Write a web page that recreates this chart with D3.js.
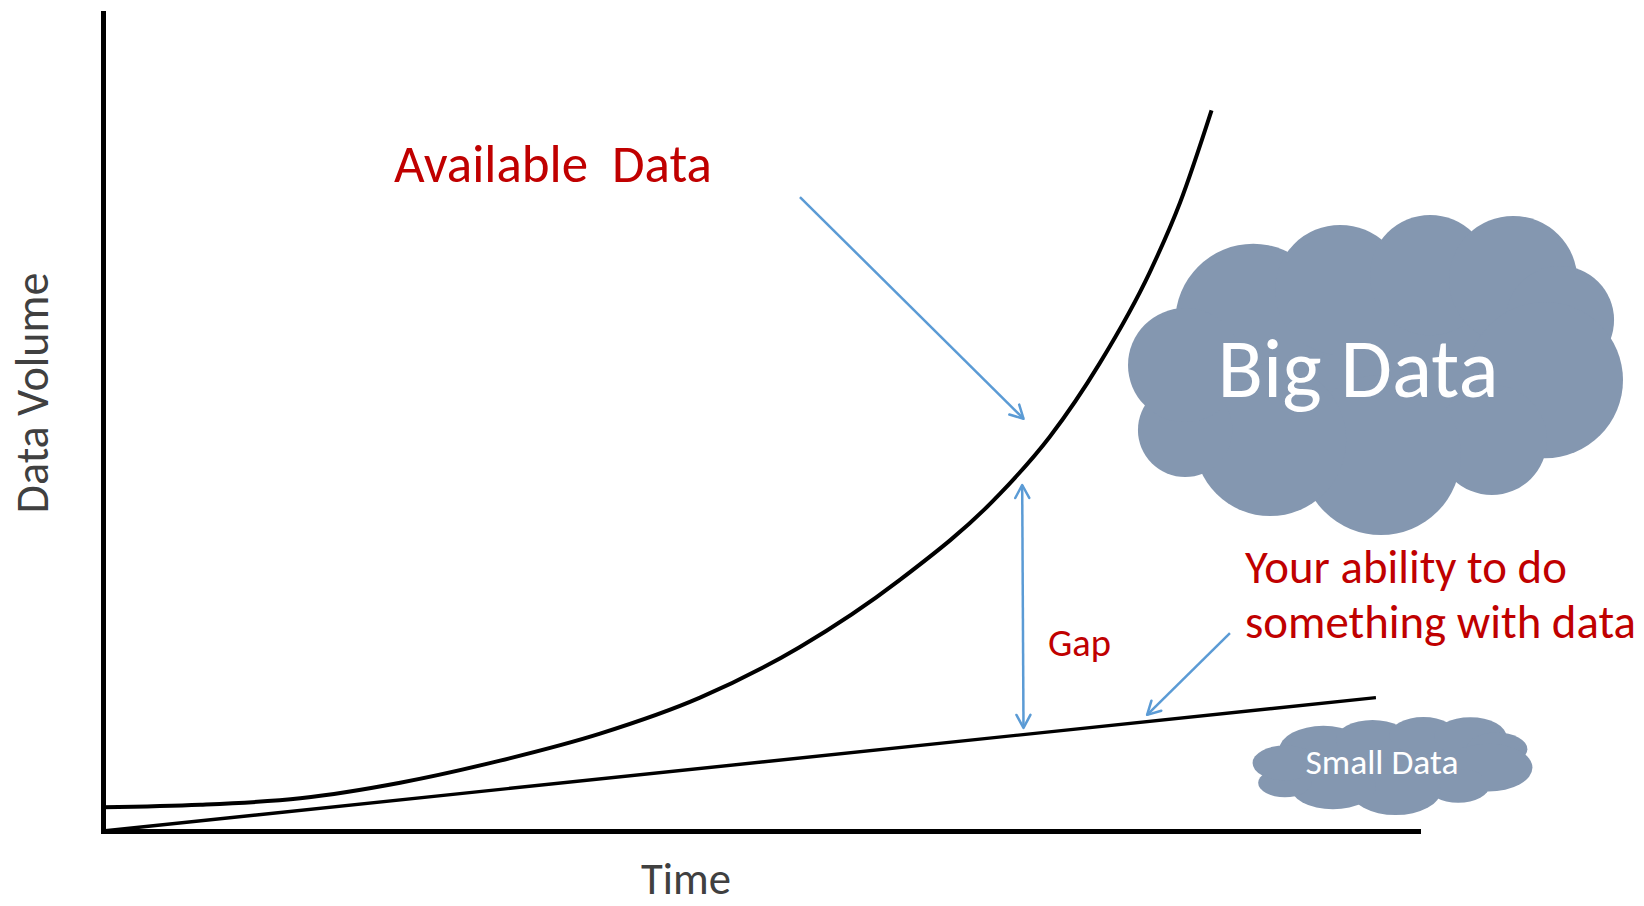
<!DOCTYPE html>
<html>
<head>
<meta charset="utf-8">
<script src="https://cdn.jsdelivr.net/npm/d3@7"></script>
<style>
  body { margin: 0; background: #fff; }
  svg { display: block; }
  text { font-family: Carlito, Calibri, Lato, sans-serif; }
</style>
</head>
<body>
<svg></svg>
<script>
// time axis and the two series, in chart units (0-100 on both axes)
let time = [0, 7.4, 15.0, 22.6, 30.2, 37.8, 45.4, 53.0, 60.6, 68.2, 72.0, 75.8, 79.6, 81.9, 84.3];
let available = [2.9, 3.2, 4.0, 5.9, 8.6, 11.9, 16.3, 22.5, 30.7, 41.2, 48.2, 57.2, 68.3, 76.8, 88.1];
let abilityTime = [0, 96.8];
let ability = [0, 16.3];

// annotation arrows: [t1, v1, t2, v2, doubleHeaded]
let arrows = [
  [53.0, 77.5, 70.0, 50.4, false],
  [69.9, 42.3, 70.0, 12.6, true],
  [85.7, 24.2, 79.4, 14.2, false]
];

let svgWidth = 1644, svgHeight = 906;
let red = '#C00000', blue = '#5B9BD5', cloudFill = '#8497B0', grey = '#404040';

let svg = d3.select('svg')
            .attr('width', svgWidth)
            .attr('height', svgHeight);

let x = d3.scaleLinear().domain([0, 100]).range([103, 1418]);
let y = d3.scaleLinear().domain([0, 100]).range([831, 13]);

// axes: only the domain lines
svg.append('g')
   .attr('transform', 'translate(0,' + y(0) + ')')
   .call(d3.axisBottom(x).ticks(0).tickSize(0).tickSizeOuter(0))
   .call(g => g.select('.domain').attr('stroke', '#000').attr('stroke-width', 5).attr('stroke-linecap', 'square'));

svg.append('g')
   .attr('transform', 'translate(' + x(0) + ',0)')
   .call(d3.axisLeft(y).ticks(0).tickSize(0).tickSizeOuter(0))
   .call(g => g.select('.domain').attr('stroke', '#000').attr('stroke-width', 5).attr('stroke-linecap', 'square'));

// series
let curveLine = d3.line()
             .x(d => x(d[0]))
             .y(d => y(d[1]))
             .curve(d3.curveMonotoneX);

svg.append('path')
   .attr('d', curveLine(time.map((t, i) => [t, available[i]])))
   .attr('fill', 'none')
   .attr('stroke', '#000')
   .attr('stroke-width', 4);

svg.append('path')
   .attr('d', curveLine(abilityTime.map((t, i) => [t, ability[i]])))
   .attr('fill', 'none')
   .attr('stroke', '#000')
   .attr('stroke-width', 3.4);

// arrows
svg.append('defs').append('marker')
   .attr('id', 'head')
   .attr('viewBox', '-16 -9 18 18')
   .attr('refX', 0).attr('refY', 0)
   .attr('markerWidth', 18).attr('markerHeight', 18)
   .attr('markerUnits', 'userSpaceOnUse')
   .attr('orient', 'auto-start-reverse')
   .append('path')
   .attr('d', 'M-13,-7L0,0L-13,7')
   .attr('fill', 'none')
   .attr('stroke', blue)
   .attr('stroke-width', 2.5)
   .attr('stroke-linecap', 'round')
   .attr('stroke-linejoin', 'round');

svg.selectAll('line.arrow')
   .data(arrows)
   .enter()
   .append('line')
   .attr('class', 'arrow')
   .attr('x1', d => x(d[0])).attr('y1', d => y(d[1]))
   .attr('x2', d => x(d[2])).attr('y2', d => y(d[3]))
   .attr('stroke', blue)
   .attr('stroke-width', 2.5)
   .attr('marker-end', 'url(#head)')
   .attr('marker-start', d => d[4] ? 'url(#head)' : null);

// clouds, lobes given relative to the cloud's box: [cx, cy, rx, ry]
let lobes = [
  [0.50, 0.50, 0.38, 0.33],
  [0.254, 0.334, 0.157, 0.244],
  [0.429, 0.234, 0.131, 0.203],
  [0.610, 0.188, 0.121, 0.188],
  [0.777, 0.203, 0.129, 0.200],
  [0.871, 0.328, 0.109, 0.169],
  [0.841, 0.516, 0.157, 0.244],
  [0.734, 0.703, 0.111, 0.172],
  [0.511, 0.750, 0.161, 0.250],
  [0.288, 0.703, 0.153, 0.238],
  [0.117, 0.672, 0.095, 0.147],
  [0.117, 0.469, 0.115, 0.178]
];

function cloud(x0, y0, w, h) {
  svg.append('g')
     .selectAll('ellipse')
     .data(lobes)
     .enter()
     .append('ellipse')
     .attr('cx', d => x0 + d[0] * w)
     .attr('cy', d => y0 + d[1] * h)
     .attr('rx', d => d[2] * w)
     .attr('ry', d => d[3] * h)
     .attr('fill', cloudFill);
}

cloud(1127, 215, 497, 320);
cloud(1252, 717, 281, 98);

// text helper: scale font size so the text has the wanted width
function label(str, px, py, size, color, width, anchor) {
  let t = svg.append('text')
             .attr('x', px).attr('y', py)
             .attr('font-size', size)
             .attr('fill', color)
             .attr('text-anchor', anchor || 'start')
             .style('white-space', 'pre')
             .text(str);
  let len = t.node().getComputedTextLength();
  if (width && len > 0) t.attr('font-size', size * width / len);
  return t;
}

label('Available  Data', 394, 182, 52, red, 318);
label('Gap', 1048, 656, 37, red, 63);
label('Your ability to do', 1245, 583, 46, red, 322);
label('something with data', 1245, 638, 46, red, 391);
label('Big Data', 1358, 397, 83, '#fff', 281, 'middle');
label('Small Data', 1382, 774, 34, '#fff', 153, 'middle');
label('Time', 686, 894, 45, grey, 90, 'middle');

label('Data Volume', 0, 0, 45, grey, 241, 'middle')
  .attr('transform', 'translate(48,393) rotate(-90)');
</script>
</body>
</html>
